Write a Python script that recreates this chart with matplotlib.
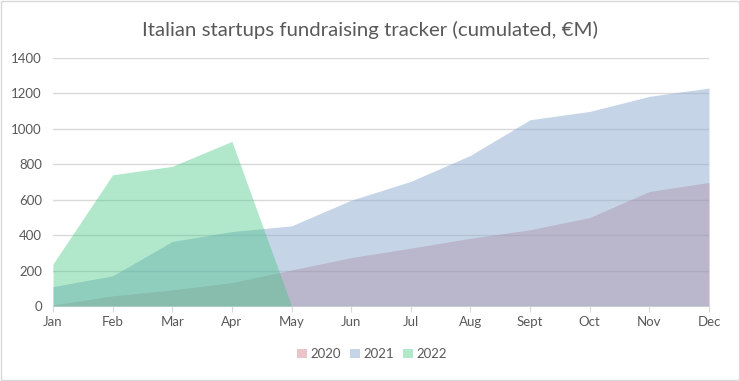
import matplotlib.pyplot as plt
from matplotlib.patches import Rectangle
import numpy as np

# Cumulated fundraising (€M)
months = ["Jan", "Feb", "Mar", "Apr", "May", "Jun", "Jul", "Aug", "Sept", "Oct", "Nov", "Dec"]
y2020 = [5, 57, 90, 132, 203, 273, 326, 382, 430, 499, 646, 697]
y2021 = [109, 170, 364, 420, 452, 597, 703, 850, 1051, 1098, 1183, 1230]
y2022 = [237, 740, 788, 929, 0]

plt.rcParams['font.family'] = ['Lato', 'DejaVu Sans']

fig = plt.figure(figsize=(7.4, 3.81), dpi=100)
ax = fig.add_axes([0.0716, 0.197, 0.8865, 0.651])

x = np.arange(len(months))
ax.fill_between(x, 0, y2020, color=(200/255, 110/255, 120/255), alpha=0.4, lw=0, label="2020", zorder=2)
ax.fill_between(x, 0, y2021, color=(140/255, 170/255, 208/255), alpha=0.5, lw=0, label="2021", zorder=3)
ax.fill_between(x[:len(y2022)], 0, y2022, color=(62/255, 197/255, 127/255), alpha=0.4, lw=0, label="2022", zorder=4)

ax.set_xlim(0, 11)
ax.set_ylim(0, 1400)
ax.set_yticks(range(0, 1401, 200))
ax.set_xticks(x)
ax.set_xticklabels(months)
ax.yaxis.grid(True, color="#d9d9d9", lw=1)
ax.set_axisbelow(True)
for s in ["top", "right", "left"]:
    ax.spines[s].set_visible(False)
ax.spines["bottom"].set_color("#d9d9d9")
ax.tick_params(axis="y", length=0, colors="#595959", labelsize=9.5, pad=8)
ax.tick_params(axis="x", length=4, color="#d9d9d9", colors="#595959", labelsize=9.5, pad=3)

fig.text(0.5, 0.922, "Italian startups fundraising tracker (cumulated, €M)",
         ha="center", va="center", fontsize=14.7, color="#595959")

handles, labels = ax.get_legend_handles_labels()
leg = fig.legend(handles, labels, loc="center", bbox_to_anchor=(0.503, 0.071), ncol=3,
                 frameon=False, fontsize=9.5, handlelength=0.7, handleheight=0.7,
                 columnspacing=0.7, handletextpad=0.3)
for t in leg.get_texts():
    t.set_color("#595959")

fig.patches.append(Rectangle((0.002, 0.003), 0.996, 0.994, transform=fig.transFigure,
                             fill=False, edgecolor="#d9d9d9", lw=1))

fig.savefig("out.png", dpi=100, facecolor="white")
